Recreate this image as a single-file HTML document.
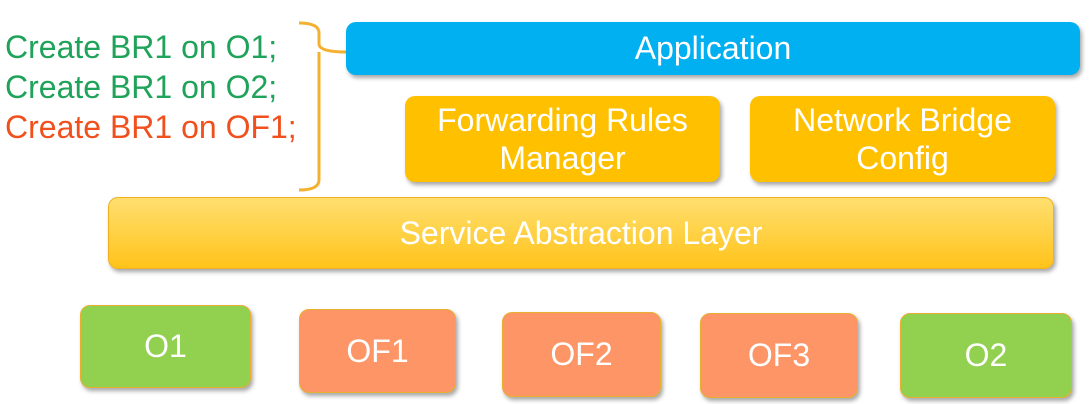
<!DOCTYPE html>
<html><head><meta charset="utf-8"><style>
body{margin:0;width:1092px;height:404px;background:#fff;position:relative;overflow:hidden;font-family:"Liberation Sans",Arial,sans-serif}
.b{position:absolute;box-sizing:border-box;border-radius:10px;color:#fff;display:flex;align-items:center;justify-content:center;text-align:center;box-shadow:2px 3px 4px rgba(0,0,0,0.35)}
.t{position:absolute;left:5px;font-size:32px;line-height:41px;white-space:nowrap}
.o{background:#92d050;border:1.5px solid #e8b030;font-size:32px}
.f{background:#fe9566;border:1.5px solid #e8b030;font-size:32px}
</style></head><body>
<div class="t" style="top:27px;color:#1fa35a">Create BR1 on O1;</div>
<div class="t" style="top:67px;color:#1fa35a">Create BR1 on O2;</div>
<div class="t" style="top:107px;color:#f0501e">Create BR1 on OF1;</div>
<svg style="position:absolute;left:0;top:0" width="1092" height="404">
<path d="M299 23 Q319 23 319 33 L319 44 Q319 52 346 52 M319 52 Q319 58 319 66 L319 180 Q319 190 299 190" fill="none" stroke="#f4b030" stroke-width="3"/>
</svg>
<div class="b" style="left:346px;top:22px;width:734px;height:53px;background:#00b0f0;font-size:32px">Application</div>
<div class="b" style="left:405px;top:96px;width:315px;height:86px;background:#ffc000;font-size:32px;line-height:38px">Forwarding Rules<br>Manager</div>
<div class="b" style="left:750px;top:96px;width:305px;height:86px;background:#ffc000;font-size:32px;line-height:38px">Network Bridge<br>Config</div>
<div class="b" style="left:108px;top:197px;width:946px;height:72px;background:linear-gradient(#ffdf70,#ffc31a);border:1px solid #f0b020;font-size:32px">Service Abstraction Layer</div>
<div class="b o" style="left:80px;top:305px;width:171px;height:83px">O1</div>
<div class="b f" style="left:299px;top:309px;width:157px;height:84px">OF1</div>
<div class="b f" style="left:502px;top:312px;width:159px;height:85px">OF2</div>
<div class="b f" style="left:700px;top:313px;width:158px;height:85px">OF3</div>
<div class="b o" style="left:900px;top:313px;width:172px;height:85px">O2</div>
</body></html>
